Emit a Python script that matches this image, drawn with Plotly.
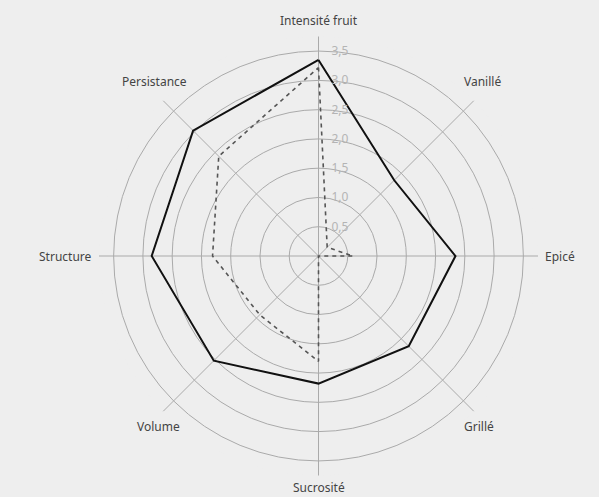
import math
import plotly.graph_objects as go

categories = ["Intensité fruit", "Vanillé", "Epicé", "Grillé", "Sucrosité", "Volume", "Structure", "Persistance"]
serie_a = [3.35, 1.83, 2.34, 2.18, 2.18, 2.53, 2.85, 3.03]
serie_b = [3.22, 0.21, 0.59, 0.0, 1.8, 1.42, 1.81, 2.41]
tick_vals = [0.5, 1.0, 1.5, 2.0, 2.5, 3.0, 3.5]
tick_text = ["0,5", "1,0", "1,5", "2,0", "2,5", "3,0", "3,5"]

fig = go.Figure()
fig.add_trace(go.Scatterpolar(
    r=serie_a + serie_a[:1], theta=categories + categories[:1],
    mode="lines", line=dict(color="#111111", width=2), name="A", showlegend=False))
fig.add_trace(go.Scatterpolar(
    r=serie_b + serie_b[:1], theta=categories + categories[:1],
    mode="lines", line=dict(color="#555555", width=1.6, dash="4px,4px"), name="B", showlegend=False))

# category labels placed around the circle (plot area is a 440px square)
half = 220.0
annotations = []
n = len(categories)
for i, name in enumerate(categories):
    ang = 2 * math.pi * i / n
    s, c = math.sin(ang), math.cos(ang)
    diag = abs(s) > 0.1 and abs(c) > 0.1
    if c < -0.1:
        rad = 227.0 if diag else 222.0
    else:
        rad = 233.0 if diag else 226.0
    px = rad * s
    py = rad * c
    if abs(s) < 0.1 or diag:
        xa = "center"
    else:
        xa = "left" if s > 0 else "right"
    if abs(c) < 0.1:
        ya = "middle"
    else:
        ya = "bottom" if c > 0 else "top"
    annotations.append(dict(
        text=name, showarrow=False, xref="paper", yref="paper",
        x=0.5 + px / (2 * half), y=0.5 + py / (2 * half),
        xanchor=xa, yanchor=ya, borderpad=0,
        font=dict(family="Noto Sans", size=12, color="#444444")))

fig.update_layout(
    width=599, height=497,
    paper_bgcolor="#eeeeee", plot_bgcolor="#eeeeee",
    margin=dict(l=98.5, r=60.5, t=36, b=21, autoexpand=False),
    font=dict(family="Noto Sans", size=12, color="#444444"),
    separators=",.",
    annotations=annotations,
    polar=dict(
        bgcolor="#eeeeee",
        domain=dict(x=[0, 1], y=[0, 1]),
        radialaxis=dict(range=[0, 3.75], tickvals=tick_vals, ticktext=tick_text,
                        angle=90, tickangle=90, showline=False,
                        ticks="outside", ticklen=10, tickcolor="rgba(0,0,0,0)",
                        gridcolor="#aaaaaa", gridwidth=1,
                        tickfont=dict(size=12, color="#b4b4b4")),
        angularaxis=dict(direction="clockwise", rotation=90, showline=False,
                         gridcolor="#aaaaaa", gridwidth=1,
                         ticks="", showticklabels=False),
    ),
)
fig.write_html(
    "out.html",
    config={"displayModeBar": False},
    post_script="document.body.style.margin='0';document.body.style.background='#eeeeee';",
)
